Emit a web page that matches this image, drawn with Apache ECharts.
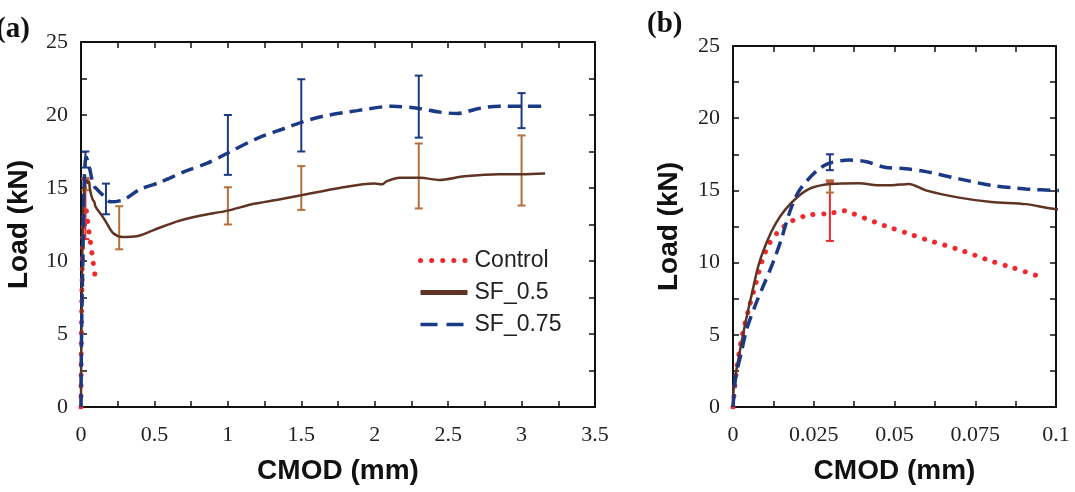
<!DOCTYPE html>
<html>
<head>
<meta charset="utf-8">
<script src="https://cdn.jsdelivr.net/npm/echarts@6/dist/echarts.min.js"></script>
<style>
  html, body { margin: 0; padding: 0; background: #fff; }
  #chart { width: 1075px; height: 492px; }
</style>
</head>
<body>
<div id="chart"></div>
<script>
// CMOD (mm) / Load (kN); panel (b) is a zoom of the start of (a)
const controlCmod = [0, 0.0005, 0.0013, 0.0029, 0.005, 0.007, 0.009, 0.0112, 0.0143, 0.0184, 0.0236, 0.030, 0.034, 0.037, 0.044, 0.049, 0.0545, 0.0597, 0.070, 0.080, 0.0866, 0.094]
const controlLoad = [0, 1.3, 2.9, 5.0, 6.9, 8.5, 10.1, 11.3, 12.2, 12.9, 13.3, 13.4, 13.6, 13.4, 12.8, 12.4, 12.0, 11.6, 10.9, 10.1, 9.65, 9.1]

const sf05Cmod = [0, 0.0003, 0.0019, 0.0039, 0.006, 0.008, 0.0106, 0.0132, 0.0163, 0.0205, 0.0246, 0.0303, 0.039, 0.045, 0.049, 0.0545, 0.0597, 0.07, 0.08, 0.0907, 0.1,
  0.15, 0.18, 0.22, 0.28, 0.38, 0.49, 0.65, 0.81, 1.0, 1.17, 1.34, 1.5, 1.76, 2.0, 2.05, 2.08, 2.17, 2.31, 2.44, 2.61, 2.85, 3.0, 3.16]
const sf05Load = [0, 1.5, 3.6, 5.9, 8.0, 9.9, 11.5, 12.7, 13.7, 14.65, 15.2, 15.45, 15.5, 15.35, 15.35, 15.45, 15.0, 14.5, 14.2, 14.05, 13.7,
  13.0, 12.5, 11.9, 11.65, 11.7, 12.1, 12.7, 13.1, 13.45, 13.9, 14.2, 14.5, 15.0, 15.3, 15.25, 15.45, 15.7, 15.7, 15.55, 15.8, 15.95, 15.95, 16.0]

const sf075Cmod = [0, 0.0008, 0.0024, 0.0044, 0.007, 0.0096, 0.0122, 0.0148, 0.0174, 0.02, 0.023, 0.0267, 0.030, 0.036, 0.041, 0.047, 0.0535, 0.0597, 0.070, 0.080, 0.0907, 0.1,
  0.16, 0.2, 0.29, 0.4, 0.54, 0.7, 0.86, 1.0, 1.2, 1.39, 1.5, 1.64, 1.88, 2.12, 2.3, 2.44, 2.56, 2.71, 2.85, 3.0, 3.16]
const sf075Load = [0, 2.0, 3.6, 5.5, 7.1, 8.5, 9.9, 11.5, 13.4, 14.8, 15.7, 16.5, 16.9, 17.1, 17.0, 16.6, 16.5, 16.3, 15.8, 15.35, 15.1, 15.0,
  14.4, 14.05, 14.2, 14.9, 15.4, 16.1, 16.7, 17.4, 18.4, 19.1, 19.5, 19.9, 20.3, 20.6, 20.45, 20.2, 20.1, 20.45, 20.6, 20.6, 20.6]

// error bars: [cmod, low, high]
const controlErr = [[0.030, 11.5, 15.6]]
const sf05Err = [[0.030, 14.85, 15.7], [0.26, 10.8, 13.75], [1.0, 12.5, 15.05], [1.5, 13.5, 16.5], [2.3, 13.6, 18.05], [3.0, 13.8, 18.6]]
const sf075Err = [[0.030, 16.4, 17.5], [0.17, 13.2, 15.3], [1.0, 15.9, 20.0], [1.5, 17.5, 22.45], [2.3, 18.45, 22.7], [3.0, 19.1, 21.5]]

const zip = (xs, ys) => xs.map((x, i) => [x, ys[i]])

const RED = '#ef2a2f'
const BROWN = '#5f3424'
const BROWN_ERR = '#b3703c'
const NAVY = '#1b3a86'
const INK = '#111'

const serif = 'Liberation Serif'
const sans = 'Liberation Sans'

const lineStyles = {
  Control: { color: RED, width: 5, type: [0.1, 10.5], cap: 'round' },
  'SF_0.5': { color: BROWN, width: 2.5, type: 'solid' },
  'SF_0.75': { color: NAVY, width: 3.5, type: [13, 7] }
}

const legendStyles = {
  Control: { color: RED, width: 5, type: [0.1, 11], cap: 'round' },
  'SF_0.5': { color: BROWN, width: 5, type: 'solid' },
  'SF_0.75': { color: NAVY, width: 3.5, type: [17, 9] }
}

const errorBar = (color) => (params, api) => {
  const x = api.value(0)
  const lo = api.coord([x, api.value(1)])
  const hi = api.coord([x, api.value(2)])
  const cap = 4
  const style = { stroke: color, lineWidth: 2 }
  return {
    type: 'group',
    children: [
      { type: 'line', shape: { x1: lo[0], y1: lo[1], x2: hi[0], y2: hi[1] }, style },
      { type: 'line', shape: { x1: lo[0] - cap, y1: lo[1], x2: lo[0] + cap, y2: lo[1] }, style },
      { type: 'line', shape: { x1: hi[0] - cap, y1: hi[1], x2: hi[0] + cap, y2: hi[1] }, style }
    ]
  }
}

const tickStyle = {
  axisLine: { show: true, onZero: false, lineStyle: { color: INK, width: 2 } },
  axisTick: { show: true, inside: true, length: 6, lineStyle: { color: INK, width: 1.5 } },
  minorTick: { show: true, splitNumber: 2, length: 6, lineStyle: { color: INK, width: 1.5 } },
  splitLine: { show: false },
  minorSplitLine: { show: false }
}

const labelStyle = { fontFamily: serif, fontSize: 22, color: '#222' }
const nameStyle = { fontFamily: sans, fontWeight: 'bold', fontSize: 28, color: INK }

const makeX = (grid, max, interval) => [
  {
    type: 'value', gridIndex: grid, min: 0, max, interval, position: 'bottom',
    name: 'CMOD (mm)', nameLocation: 'middle', nameGap: 50, nameTextStyle: nameStyle,
    axisLabel: { ...labelStyle, margin: 17 },
    ...tickStyle
  },
  {
    type: 'value', gridIndex: grid, min: 0, max, interval, position: 'top',
    axisLabel: { show: false }, ...tickStyle
  }
]

const makeY = (grid, gap) => [
  {
    type: 'value', gridIndex: grid, min: 0, max: 25, interval: 5, position: 'left',
    name: 'Load (kN)', nameLocation: 'middle', nameGap: gap, nameTextStyle: nameStyle,
    axisLabel: { ...labelStyle, margin: 13 },
    ...tickStyle
  },
  {
    type: 'value', gridIndex: grid, min: 0, max: 25, interval: 5, position: 'right',
    axisLabel: { show: false }, ...tickStyle
  }
]

const lineSeries = (name, data, axisIdx) => ({
  name,
  type: 'line',
  xAxisIndex: axisIdx,
  yAxisIndex: axisIdx,
  data,
  showSymbol: false,
  symbol: 'none',
  smooth: 0.3,
  clip: true,
  lineStyle: lineStyles[name],
  itemStyle: { color: lineStyles[name].color }
})

const errSeries = (name, data, color, axisIdx) => ({
  name,
  type: 'custom',
  xAxisIndex: axisIdx,
  yAxisIndex: axisIdx,
  data,
  clip: true,
  encode: { x: 0, y: [1, 2] },
  renderItem: errorBar(color),
  z: 3
})

const series = []
// axis index 0 -> panel (a), axis index 2 -> panel (b)
for (const axisIdx of [0, 2]) {
  series.push(lineSeries('Control', zip(controlCmod, controlLoad), axisIdx))
  series.push(lineSeries('SF_0.5', zip(sf05Cmod, sf05Load), axisIdx))
  series.push(lineSeries('SF_0.75', zip(sf075Cmod, sf075Load), axisIdx))
  series.push(errSeries('errControl', controlErr, RED, axisIdx))
  series.push(errSeries('errSF05', sf05Err, BROWN_ERR, axisIdx))
  series.push(errSeries('errSF075', sf075Err, NAVY, axisIdx))
}

const chart = echarts.init(document.getElementById('chart'), null, { renderer: 'canvas' })

chart.setOption({
  animation: false,
  backgroundColor: '#fff',
  title: [
    { text: '(a)', left: -4, top: 15, padding: 0, textStyle: { fontFamily: serif, fontWeight: 'bold', fontSize: 29, color: INK } },
    { text: '(b)', left: 647, top: 10, padding: 0, textStyle: { fontFamily: serif, fontWeight: 'bold', fontSize: 29, color: INK } }
  ],
  grid: [
    { left: 81, top: 42, width: 514, height: 365 },
    { left: 733, top: 46, width: 323, height: 361 }
  ],
  xAxis: [...makeX(0, 3.5, 0.5), ...makeX(1, 0.1, 0.025)],
  yAxis: [...makeY(0, 48), ...makeY(1, 50)],
  legend: {
    orient: 'vertical',
    left: 413,
    top: 244,
    itemWidth: 47,
    itemHeight: 14,
    itemGap: 9,
    textStyle: { fontFamily: sans, fontSize: 23, color: '#222', padding: [0, 0, 0, 2] },
    data: ['Control', 'SF_0.5', 'SF_0.75'].map(name => ({
      name,
      itemStyle: { opacity: 0 },
      lineStyle: legendStyles[name]
    }))
  },
  series
})
</script>
</body>
</html>
